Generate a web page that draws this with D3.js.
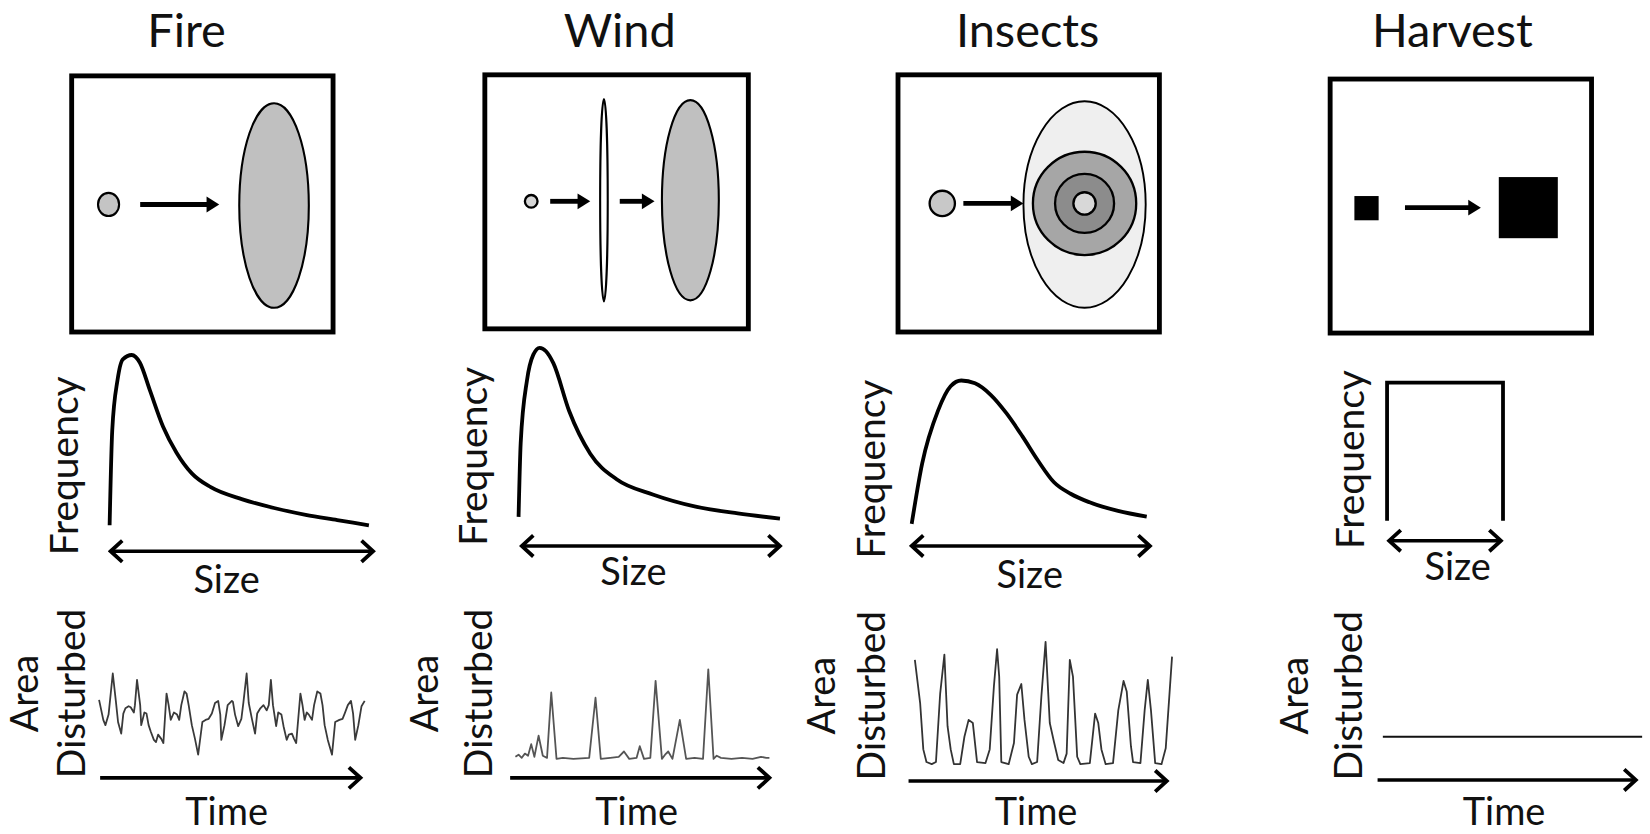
<!DOCTYPE html>
<html>
<head>
<meta charset="utf-8">
<script src="https://cdn.jsdelivr.net/npm/d3@7"></script>
<style>
  body { margin: 0; background: #fff; }
  text { font-family: Lato, "Open Sans", sans-serif; fill: #111; }
</style>
</head>
<body>
<svg id="chart"></svg>
<script>
// disturbance types
const titles = ["Fire", "Wind", "Insects", "Harvest"];

// size-frequency distributions: [size, frequency], both 0-100
const fireFreq = [[0, 1], [1, 56], [3, 85], [5, 97], [8.4, 99.5], [11.5, 95], [15.3, 79], [20.3, 58], [25.4, 43], [31.2, 31],
  [38.4, 23], [50.4, 16], [62.4, 11], [74.4, 7], [86.4, 4], [98.4, 1]];
const windFreq = [[0, 1], [0.8, 44], [3.2, 81], [5.6, 96], [8, 100], [10.4, 98], [13.2, 91], [19.2, 63], [27.2, 38],
  [37.2, 23], [51.2, 14], [67.2, 7], [83.2, 3], [99.2, 0]];
const insectFreq = [[0, 0], [4.4, 42], [11.1, 79], [16.4, 96], [20.9, 100], [26.7, 98], [33.3, 90], [40, 77], [46.7, 61],
  [53.3, 44], [60, 29], [67, 21], [75, 15], [87, 9], [99.1, 5]];
const harvestFreq = [[0, 0], [0, 100], [100, 100], [100, 0]];

// area disturbed through time: [time step, area]
const fireSeries = [[0, 56], [4, 37], [6, 32], [9, 42], [13, 81], [16, 54], [18, 35], [21, 24], [23, 43], [25, 48], [28, 50],
  [30, 49], [33, 44], [34, 51], [36, 75], [39, 51], [40, 32], [43, 44], [45, 43], [47, 32], [49, 26], [52, 18], [54, 16],
  [56, 23], [59, 19], [61, 15], [64, 62], [66, 51], [68, 37], [71, 44], [74, 42], [76, 37], [78, 51], [81, 64], [83, 62],
  [85, 51], [88, 32], [91, 19], [94, 4], [98, 35], [101, 37], [104, 38], [107, 43], [110, 53], [113, 55], [115, 42],
  [116, 18], [119, 32], [122, 51], [126, 55], [127, 54], [129, 42], [132, 31], [135, 38], [137, 54], [140, 81], [142, 53],
  [145, 38], [148, 24], [150, 43], [153, 48], [156, 51], [159, 46], [161, 51], [163, 75], [165, 51], [168, 31], [170, 44],
  [173, 42], [175, 31], [178, 18], [180, 23], [183, 24], [185, 19], [187, 15], [191, 62], [193, 51], [195, 37], [197, 44],
  [199, 42], [202, 37], [204, 51], [207, 64], [210, 62], [212, 51], [214, 32], [217, 18], [221, 4], [224, 35], [228, 37],
  [231, 38], [233, 43], [236, 51], [239, 55], [241, 43], [243, 18], [246, 32], [249, 50], [252, 55]];
const windSeries = [[0, 2], [3, 4], [6, 1], [9, 5], [12, 3], [15, 14], [18, 2], [22, 22], [26, 3], [30, 1], [34, 63], [39, 0],
  [45, 1], [55, 0], [70, 1], [76, 58], [81, 0], [90, 1], [98, 2], [103, 7], [108, 0], [115, 1], [118, 12], [122, 0],
  [128, 1], [133, 74], [139, 0], [142, 4], [145, 7], [149, 0], [156, 37], [162, 0], [170, 1], [178, 0], [183, 85],
  [188, 0], [191, 3], [195, 1], [205, 0], [215, 1], [225, 0], [233, 2], [238, 1], [241, 1]];
const insectSeries = [[0, 104], [5, 63], [8, 19], [11, 7], [16, 5], [20, 7], [24, 72], [28, 109], [31, 41], [34, 19], [37, 5],
  [43, 5], [47, 31], [51, 47], [55, 44], [59, 7], [67, 6], [71, 19], [75, 79], [78, 114], [80, 88], [82, 7], [89, 5],
  [94, 25], [97, 71], [101, 81], [104, 47], [108, 12], [111, 5], [116, 7], [120, 69], [124, 121], [128, 44], [132, 26],
  [136, 9], [141, 6], [144, 15], [147, 104], [150, 88], [154, 12], [157, 5], [166, 6], [171, 53], [174, 44], [177, 19],
  [181, 5], [188, 6], [193, 56], [198, 84], [201, 74], [205, 22], [207, 7], [214, 6], [218, 56], [221, 85], [224, 56],
  [228, 6], [234, 5], [238, 20], [244, 107]];
const harvestSeries = [[0, 21], [246, 21]];

const W = 1650, H = 834, k = 1.054;
const svg = d3.select("#chart")
  .attr("width", W)
  .attr("height", H)
  .attr("viewBox", `0 0 ${W / k} ${H / k}`);

const defs = svg.append("defs");
defs.append("marker")
  .attr("id", "chev")
  .attr("markerUnits", "userSpaceOnUse")
  .attr("viewBox", "-16 -13 19 26")
  .attr("markerWidth", 19)
  .attr("markerHeight", 26)
  .attr("refX", 0)
  .attr("refY", 0)
  .attr("orient", "auto-start-reverse")
  .append("path")
  .attr("d", "M-11,-10 L0,0 L-11,10")
  .attr("fill", "none")
  .attr("stroke", "#000")
  .attr("stroke-width", 3.6);

// layout of each column (screen units of the viewBox)
const panels = [
  {
    tx: 177, box: [68, 72, 316, 315], draw: drawFire,
    freq: { data: fireFreq, x: [104, 354], y: [500, 336], axis: [103, 356, 523], lab: [74, 442], size: [215, 563] },
    ts: { data: fireSeries, dom: 252, x: [94, 346], y: [720, 620], color: "#3a3a3a", axis: [95, 344, 738],
      area: [36, 81, 658], time: [215, 783] }
  },
  {
    tx: 588, box: [460, 71, 710, 312], draw: drawWind,
    freq: { data: windFreq, x: [492, 742], y: [492, 330], axis: [493, 742, 518], lab: [462, 433], size: [601, 555] },
    ts: { data: windSeries, dom: 241, x: [489, 730], y: [720, 620], color: "#555", axis: [484, 732, 738],
      area: [416, 467, 658], time: [604, 783] }
  },
  {
    tx: 975, box: [852, 71, 1100, 315], draw: drawInsects,
    freq: { data: insectFreq, x: [865, 1090], y: [497, 361], axis: [863, 1093, 518], lab: [840, 445], size: [977, 558] },
    ts: { data: insectSeries, dom: 244, x: [868, 1112], y: [730, 630], color: "#333", axis: [862, 1109, 741],
      area: [792, 840, 660], time: [983, 783] }
  },
  {
    tx: 1378, box: [1262, 75, 1510, 316], draw: drawHarvest,
    freq: { data: harvestFreq, linear: true, x: [1316, 1426], y: [494, 363], axis: [1316, 1426, 513], lab: [1294, 436], size: [1383, 550] },
    ts: { data: harvestSeries, dom: 246, x: [1312, 1558], y: [720, 620], color: "#111", axis: [1307, 1554, 740],
      area: [1241, 1292, 660], time: [1427, 783] }
  }
];

function boxArrow(g, x1, x2, y) {
  g.append("line")
    .attr("x1", x1).attr("x2", x2 - 9).attr("y1", y).attr("y2", y)
    .attr("stroke", "#000").attr("stroke-width", 4.6);
  g.append("path")
    .attr("d", `M${x2 - 12},${y - 7.5} L${x2},${y} L${x2 - 12},${y + 7.5} Z`)
    .attr("fill", "#000");
}

function ell(g, cx, cy, rx, ry, fill, sw = 2) {
  g.append("ellipse")
    .attr("cx", cx).attr("cy", cy).attr("rx", rx).attr("ry", ry)
    .attr("fill", fill).attr("stroke", "#000").attr("stroke-width", sw);
}

function drawFire(g) {
  ell(g, 103, 194, 10, 11, "#c4c4c4");
  boxArrow(g, 133, 208, 194);
  ell(g, 260, 195, 33, 97, "#c0c0c0");
}

function drawWind(g) {
  ell(g, 504, 191, 6, 6, "#d6d6d6", 2.2);
  boxArrow(g, 522, 560, 191);
  ell(g, 573, 190, 3.6, 96, "#fff", 2);
  boxArrow(g, 588, 621, 191);
  ell(g, 655, 190, 27, 95, "#c0c0c0");
}

function drawInsects(g) {
  ell(g, 894, 193, 12, 12, "#c8c8c8", 2.2);
  boxArrow(g, 914, 971, 193);
  ell(g, 1029, 194, 58, 98, "#efefef", 1.8);
  ell(g, 1029, 193, 49, 49, "#a6a6a6", 2.2);
  ell(g, 1029, 193, 28, 28, "#8c8c8c", 2.2);
  ell(g, 1029, 193, 10.6, 10.6, "#d8d8d8", 2.2);
}

function drawHarvest(g) {
  g.append("rect").attr("x", 1285).attr("y", 186).attr("width", 23).attr("height", 23).attr("fill", "#000");
  boxArrow(g, 1333, 1405, 197);
  g.append("rect").attr("x", 1422).attr("y", 168).attr("width", 56).attr("height", 58).attr("fill", "#000");
}

function vLabel(g, x, y, str, size = 37) {
  g.append("text")
    .attr("transform", `translate(${x},${y}) rotate(-90)`)
    .attr("text-anchor", "middle")
    .style("font-size", `${size}px`)
    .text(str);
}

panels.forEach((p, i) => {
  const g = svg.append("g");

  // title
  g.append("text")
    .attr("x", p.tx).attr("y", 45)
    .attr("text-anchor", "middle")
    .style("font-size", "44.5px")
    .text(titles[i]);

  // schematic box
  const [bx0, by0, bx1, by1] = p.box;
  g.append("rect")
    .attr("x", bx0).attr("y", by0).attr("width", bx1 - bx0).attr("height", by1 - by0)
    .attr("fill", "none").attr("stroke", "#000").attr("stroke-width", 4.6);
  p.draw(g);

  // size-frequency curve
  const f = p.freq;
  const fx = d3.scaleLinear().domain([0, 100]).range(f.x);
  const fy = d3.scaleLinear().domain([0, 100]).range(f.y);
  g.append("path")
    .datum(f.data)
    .attr("fill", "none")
    .attr("stroke", "#000")
    .attr("stroke-width", 3.6)
    .attr("stroke-linejoin", "miter")
    .attr("d", d3.line().x(d => fx(d[0])).y(d => fy(d[1]))
      .curve(f.linear ? d3.curveLinear : d3.curveMonotoneX));
  g.append("line")
    .attr("x1", f.axis[0] + 2).attr("x2", f.axis[1] - 2)
    .attr("y1", f.axis[2]).attr("y2", f.axis[2])
    .attr("stroke", "#000").attr("stroke-width", 3.4)
    .attr("marker-start", "url(#chev)").attr("marker-end", "url(#chev)");
  vLabel(g, f.lab[0], f.lab[1], "Frequency");
  g.append("text")
    .attr("x", f.size[0]).attr("y", f.size[1])
    .attr("text-anchor", "middle")
    .style("font-size", "36px")
    .text("Size");

  // time series
  const t = p.ts;
  const tx = d3.scaleLinear().domain([0, t.dom]).range(t.x);
  const ty = d3.scaleLinear().domain([0, 100]).range(t.y);
  g.append("path")
    .datum(t.data)
    .attr("fill", "none")
    .attr("stroke", t.color)
    .attr("stroke-width", 1.7)
    .attr("stroke-linejoin", "round")
    .attr("d", d3.line().x(d => tx(d[0])).y(d => ty(d[1])));
  g.append("line")
    .attr("x1", t.axis[0]).attr("x2", t.axis[1] - 2)
    .attr("y1", t.axis[2]).attr("y2", t.axis[2])
    .attr("stroke", "#000").attr("stroke-width", 3.4)
    .attr("marker-end", "url(#chev)");
  vLabel(g, t.area[0], t.area[2], "Area", 36);
  vLabel(g, t.area[1], t.area[2], "Disturbed");
  g.append("text")
    .attr("x", t.time[0]).attr("y", t.time[1])
    .attr("text-anchor", "middle")
    .style("font-size", "36px")
    .text("Time");
});
</script>
</body>
</html>
